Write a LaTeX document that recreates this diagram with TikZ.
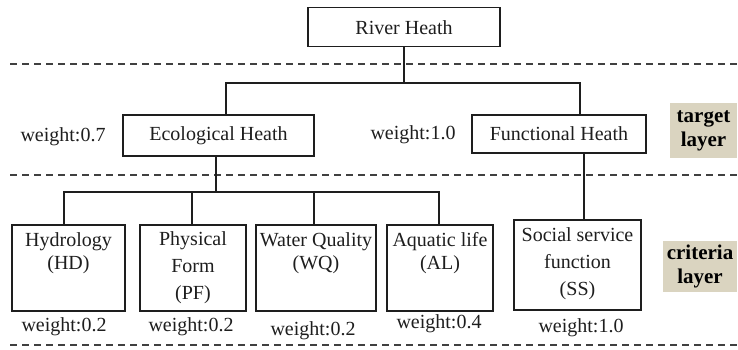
\documentclass[tikz,border=0pt]{standalone}
\usepackage{fontspec}
\setmainfont{Liberation Serif}
\definecolor{tanbg}{RGB}{218,212,192}
\definecolor{ink}{RGB}{30,30,30}
\tikzset{
  box/.style={draw=ink,line width=1.2pt,rectangle,inner sep=0pt},
  txt/.style={text=ink,align=center,inner sep=0pt,font=\fontsize{20}{23}\selectfont},
  txtw/.style={text=ink,align=center,inner sep=0pt,font=\fontsize{20}{27}\selectfont},
  lbl/.style={fill=tanbg,text=black,align=center,inner sep=0pt,font=\bfseries\fontsize{21}{24}\selectfont},
  conn/.style={draw=ink,line width=1.1pt},
  dashline/.style={draw=ink!85,line width=1.4pt,dash pattern=on 7pt off 5pt}
}
\begin{document}
\begin{tikzpicture}[x=1pt,y=-1pt]
\useasboundingbox[fill=white] (0,0) rectangle (738,349);
% dashed separators
\coordinate (d1a) at (10,64);  \coordinate (d1b) at (738,64);
\coordinate (d2a) at (10,175); \coordinate (d2b) at (738,175);
\coordinate (d3a) at (10,345); \coordinate (d3b) at (738,345);
\draw[dashline] (d1a) -- (d1b);
\draw[dashline] (d2a) -- (d2b);
\draw[dashline] (d3a) -- (d3b);
% boxes
\node[box,minimum width=192pt,minimum height=39pt] (rh) at (404,27) {};
\node[txt] (rht) at (404,28) {River Heath};
\node[box,minimum width=191pt,minimum height=41pt] (eh) at (218.5,135.5) {};
\node[txt] (eht) at (218.5,136) {Ecological Heath};
\node[box,minimum width=174pt,minimum height=38pt] (fh) at (559,134) {};
\node[txt] (fht) at (559,134) {Functional Heath};
\node[box,minimum width=113pt,minimum height=86pt] (hd) at (68.5,268) {};
\node[txt] (hdt) at (68.5,253.5) {Hydrology\\(HD)};
\node[box,minimum width=106pt,minimum height=86pt] (pf) at (193,268) {};
\node[txtw] (pft) at (193,268) {Physical\\Form\\(PF)};
\node[box,minimum width=120pt,minimum height=86pt] (wq) at (316,268) {};
\node[txt] (wqt) at (316,253.5) {Water Quality\\(WQ)};
\node[box,minimum width=106pt,minimum height=86pt] (al) at (440,268) {};
\node[txt] (alt) at (440,253.5) {Aquatic life\\(AL)};
\node[box,minimum width=127pt,minimum height=90pt] (ss) at (577.5,265) {};
\node[txtw] (sst) at (577.5,264) {Social service\\function\\(SS)};
% weights
\node[txt] (w07) at (63,137) {weight:0.7};
\node[txt] (w10a) at (413,135) {weight:1.0};
\node[txt] (whd) at (64,327) {weight:0.2};
\node[txt] (wpf) at (191,327) {weight:0.2};
\node[txt] (wwq) at (313,331) {weight:0.2};
\node[txt] (wal) at (439,324) {weight:0.4};
\node[txt] (wss) at (581,328) {weight:1.0};
% layer labels
\node[lbl,minimum width=67pt,minimum height=55pt] (tl) at (703.5,130.5) {target\\layer};
\node[lbl,minimum width=74pt,minimum height=51pt] (cl) at (700,266.5) {criteria\\layer};
% connectors
\coordinate (t1) at (226,83);
\coordinate (t2) at (580,83);
\draw[conn] (rh.south) |- (t1) -- (t1 |- eh.north);
\draw[conn] (rh.south) |- (t2) -- (t2 |- fh.north);
\coordinate (e0) at (216,192);
\coordinate (b1) at (64,192);
\coordinate (b2) at (192,192);
\coordinate (b3) at (314,192);
\coordinate (b4) at (439,192);
\draw[conn] (e0 |- eh.south) -- (e0);
\draw[conn] (b1 |- hd.north) -- (b1) -- (b4) -- (b4 |- al.north);
\draw[conn] (b2) -- (b2 |- pf.north);
\draw[conn] (b3) -- (b3 |- wq.north);
\coordinate (s0) at (584,200);
\draw[conn] (s0 |- fh.south) -- (s0 |- ss.north);
\end{tikzpicture}
\end{document}
